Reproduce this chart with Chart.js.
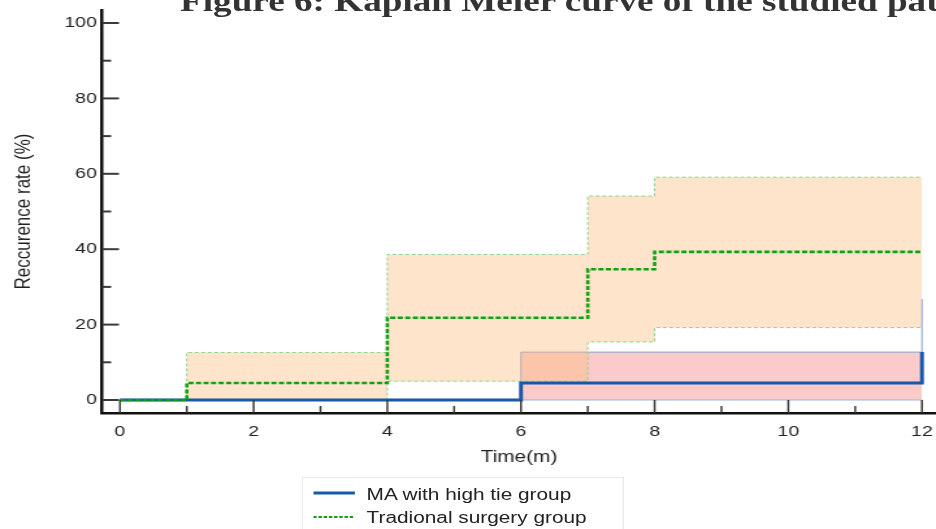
<!DOCTYPE html>
<html><head><meta charset="utf-8">
<script src="https://cdn.jsdelivr.net/npm/chart.js@4/dist/chart.umd.min.js"></script>
<style>
html,body{margin:0;padding:0;background:#fff;overflow:hidden;width:936px;height:529px;}
#wrap{position:absolute;left:0;top:0;width:720px;height:529px;transform:scaleX(1.3);transform-origin:0 0;overflow:visible;}
#c{position:absolute;left:0;top:0;}
#title{position:absolute;left:138.5px;top:-12.8px;font:bold 28.6px 'Liberation Serif','Times New Roman',serif;line-height:29px;color:#333;white-space:nowrap;}
#legend{position:absolute;left:232px;top:477px;width:248px;height:70px;border:1px solid #e8e8e8;box-sizing:border-box;}
.lt{position:absolute;left:282px;font:16px 'Liberation Sans',Arial,sans-serif;line-height:16px;color:#222;white-space:nowrap;}
.ls{position:absolute;left:241px;}
</style></head>
<body>
<div id="wrap">
  <canvas id="c" width="720" height="529"></canvas>
  <div id="title">Figure 6: Kaplan Meier curve of the studied patients</div>
  <div id="legend"></div>
  <svg class="ls" style="top:488px" width="33" height="10"><line x1="0" y1="5" x2="32" y2="5" stroke="#1858a8" stroke-width="3"/></svg>
  <svg class="ls" style="top:512px" width="33" height="10"><line x1="0" y1="5" x2="32" y2="5" stroke="#11a011" stroke-width="2.2" stroke-dasharray="2.6,1.4"/></svg>
  <div class="lt" id="l1" style="top:487.2px"></div>
  <div class="lt" id="l2" style="top:509.5px"></div>
</div>
<script>
// ---- data ----
const seriesNames = ['MA with high tie group', 'Tradional surgery group'];
const maTime  = [0, 6, 12];
const maRate  = [0, 4.5, 12.7];
const maUpper = [0, 12.7, 26.8];
const maLower = [0, 0, 0];
const tsTime  = [0, 1, 4, 7, 8, 12];
const tsRate  = [0, 4.5, 21.8, 34.7, 39.3, 39.3];
const tsUpper = [0, 12.6, 38.6, 54.1, 59.1, 59.1];
const tsLower = [0, 0, 5.0, 15.4, 19.2, 19.2];
const xTicks = [0, 2, 4, 6, 8, 10, 12];
const xMinor = [1, 3, 5, 7, 9, 11];
const yTicks = [0, 20, 40, 60, 80, 100];
const yMinor = [10, 30, 50, 70, 90];
const xTitle = 'Time(m)';
const yTitle = 'Reccurence rate (%)';

document.getElementById('l1').textContent = seriesNames[0];
document.getElementById('l2').textContent = seriesNames[1];

const pts = (xs, ys) => xs.map((t, i) => ({x: t, y: ys[i]}));

const tickPlugin = {
  id: 'inTicks',
  afterDraw(chart) {
    const {ctx, chartArea: a} = chart;
    const x = chart.scales.x, y = chart.scales.y;
    ctx.save();
    ctx.strokeStyle = '#3a3a3a';
    ctx.lineWidth = 1.5;
    const vt = (v, len) => { const p = x.getPixelForValue(v); ctx.beginPath(); ctx.moveTo(p, a.bottom); ctx.lineTo(p, a.bottom - len); ctx.stroke(); };
    xTicks.forEach(v => vt(v, 13));
    xMinor.forEach(v => vt(v, 7));
    ctx.lineWidth = 2;
    const ht = (v, len) => { const p = y.getPixelForValue(v); ctx.beginPath(); ctx.moveTo(a.left, p); ctx.lineTo(a.left + len, p); ctx.stroke(); };
    yTicks.forEach(v => ht(v, 13));
    yMinor.forEach(v => ht(v, 7));
    ctx.restore();
  }
};

Chart.defaults.font.family = "'Liberation Sans', Arial, sans-serif";
Chart.defaults.color = '#222';

new Chart(document.getElementById('c'), {
  type: 'line',
  data: {
    datasets: [
      { label: seriesNames[1], data: pts(tsTime, tsRate), stepped: 'before', borderColor: '#11a011', borderWidth: 2.6, borderDash: [4, 1.8], fill: false, pointRadius: 0 },
      { label: seriesNames[0], data: pts(maTime, maRate), stepped: 'before', borderColor: '#1858a8', borderWidth: 3, fill: false, pointRadius: 0 },
      { label: 'ts upper', data: pts(tsTime, tsUpper), stepped: 'before', borderColor: '#8fd18f', borderWidth: 1, borderDash: [3, 2], fill: false, pointRadius: 0 },
      { label: 'ts lower', data: pts(tsTime, tsLower), stepped: 'before', borderColor: '#8fd18f', borderWidth: 1, borderDash: [3, 2], fill: 2, backgroundColor: 'rgba(250,191,129,0.42)', pointRadius: 0 },
      { label: 'ma upper', data: pts(maTime, maUpper), stepped: 'before', borderColor: '#86a0d4', borderWidth: 1, fill: false, pointRadius: 0 },
      { label: 'ma lower', data: pts(maTime, maLower), stepped: 'before', borderColor: '#9db3de', borderWidth: 1, fill: 4, backgroundColor: 'rgba(247,150,150,0.5)', pointRadius: 0 }
    ]
  },
  options: {
    responsive: false,
    animation: false,
    devicePixelRatio: 1,
    layout: { padding: { left: 4, top: 10, right: 0, bottom: 58 } },
    plugins: { legend: { display: false }, tooltip: { enabled: false }, title: { display: false } },
    scales: {
      x: {
        type: 'linear', min: -0.268, max: 12.21,
        grid: { display: false, drawTicks: false },
        border: { display: true, color: '#111', width: 2.5 },
        afterBuildTicks: s => { s.ticks = xTicks.map(v => ({ value: v })); },
        ticks: { font: { size: 15 }, color: '#222', padding: 10, maxRotation: 0, autoSkip: false },
        title: { display: true, text: xTitle, font: { size: 16 }, color: '#222', padding: { top: 4, bottom: 4 } },
        afterFit: s => { s.height = 58; s.paddingLeft = 0; s.paddingRight = 0; }
      },
      y: {
        type: 'linear', min: -3.45, max: 103.45,
        grid: { display: false, drawTicks: false },
        border: { display: true, color: '#111', width: 2.5 },
        afterBuildTicks: s => { s.ticks = yTicks.map(v => ({ value: v })); },
        ticks: { font: { size: 15 }, color: '#222', padding: 4, autoSkip: false },
        title: { display: true, text: yTitle, font: { size: 17 }, color: '#222', padding: { top: 4, bottom: 4 } },
        afterFit: s => { s.width = 74.5; s.paddingTop = 0; s.paddingBottom = 0; }
      }
    }
  },
  plugins: [tickPlugin]
});
</script>
</body></html>
